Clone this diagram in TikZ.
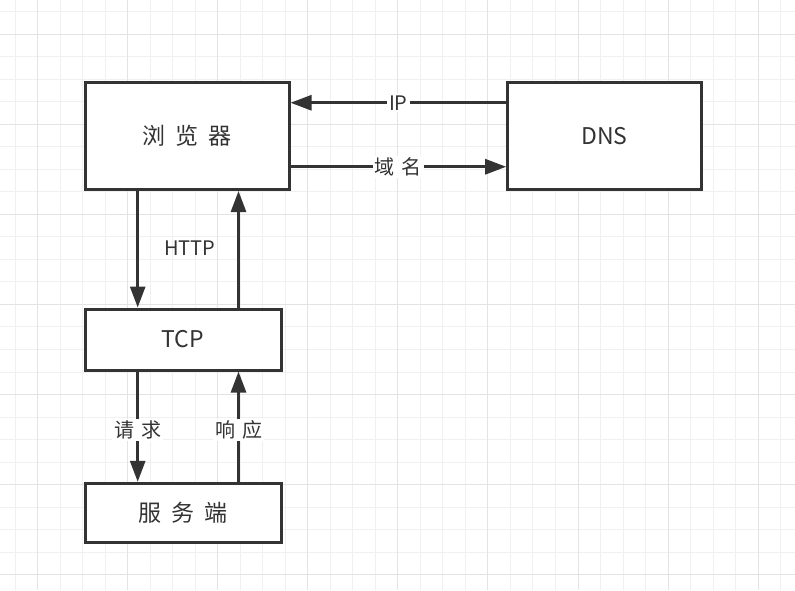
\documentclass[tikz,border=0pt]{standalone}
\usepackage{fontspec}
\setmainfont{Noto Sans CJK SC}
\usetikzlibrary{arrows.meta}
\definecolor{ink}{HTML}{333333}
\definecolor{gridminor}{HTML}{F0F0F0}
\definecolor{gridmajor}{HTML}{E3E3E3}
\tikzset{
  boxnode/.style={draw=ink, line width=3pt, fill=white, inner sep=0pt, text=ink,
    font=\fontsize{23}{27}\selectfont},
  arr/.style={draw=ink, line width=2.8pt, -{Triangle[length=21pt,width=15pt]}},
  lbl/.style={fill=white, inner sep=2pt, text=ink, font=\fontsize{20}{24}\selectfont},
  plainlbl/.style={inner sep=2pt, text=ink, font=\fontsize{20}{24}\selectfont}
}
\begin{document}
\begin{tikzpicture}[x=1pt,y=-1pt]
\useasboundingbox (0,0) rectangle (795,590);
\fill[white] (0,0) rectangle (795,590);
% grid
\foreach \i in {0,...,34}{
  \pgfmathsetmacro{\gx}{15+22.52*\i}
  \draw[gridminor, line width=1pt] (\gx,0) -- (\gx,590);
}
\foreach \j in {0,...,25}{
  \pgfmathsetmacro{\gy}{11.7+22.52*\j}
  \draw[gridminor, line width=1pt] (0,\gy) -- (795,\gy);
}
\foreach \i in {1,5,...,33}{
  \pgfmathsetmacro{\gx}{15+22.52*\i}
  \draw[gridmajor, line width=1pt] (\gx,0) -- (\gx,590);
}
\foreach \j in {1,5,...,25}{
  \pgfmathsetmacro{\gy}{11.7+22.52*\j}
  \draw[gridmajor, line width=1pt] (0,\gy) -- (795,\gy);
}
% boxes
\node[boxnode, minimum width=204pt, minimum height=107.5pt] (browser) at (187,135.75) {浏\hspace{10pt}览\hspace{10pt}器};
\node[boxnode, minimum width=193.6pt, minimum height=107.5pt] (dns) at (604.5,135.75) {DNS};
\node[boxnode, minimum width=196pt, minimum height=61pt] (tcp) at (183,339.5) {TCP};
\node[boxnode, minimum width=196pt, minimum height=59pt] (server) at (183,512.8) {服\hspace{10pt}务\hspace{10pt}端};
% connectors
\draw[arr] ([yshift=33pt]dns.west) -- node[lbl] (iplbl) {IP} ([yshift=33pt]browser.east);
\draw[arr] ([yshift=-31pt]browser.east) -- node[lbl] (domlbl) {域\hspace{7pt}名} ([yshift=-31pt]dns.west);
\draw[arr] ([xshift=-49.3pt]browser.south) -- ([xshift=-45.3pt]tcp.north);
\draw[arr] ([xshift=55.5pt]tcp.north) -- ([xshift=51.5pt]browser.south);
\node[plainlbl] (http) at (190,248) {HTTP};
\draw[arr] ([xshift=-45.3pt]tcp.south) -- node[lbl, pos=0.53] (reqlbl) {请\hspace{7pt}求} ([xshift=-45.3pt]server.north);
\draw[arr] ([xshift=55.5pt]server.north) -- node[lbl, pos=0.47] (reslbl) {响\hspace{7pt}应} ([xshift=55.5pt]tcp.south);
\end{tikzpicture}
\end{document}
